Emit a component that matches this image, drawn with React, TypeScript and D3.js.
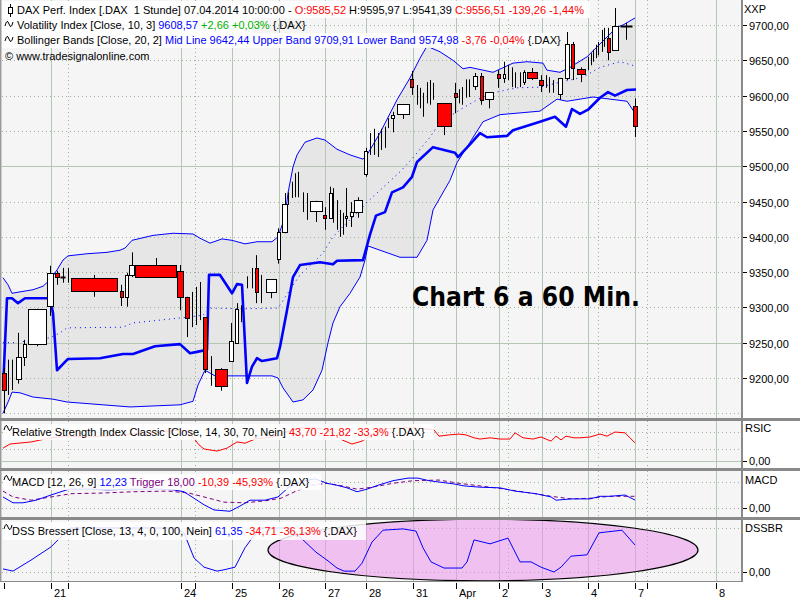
import React from "react";
import * as d3 from "d3";

// ---------- DATA ----------
// candles: [time slot, body width (slots, 0 = bar line only), open, high, low, close]
const candles: number[][] = [
  [0.3, 0.8, 9207, 9214, 9150, 9183],
  [1.2, 0, 9198, 9226, 9176, 9200],
  [2.0, 0, 9205, 9226, 9183, 9210],
  [3.26, 0.9, 9199, 9264, 9192, 9230],
  [4.46, 0.5, 9230, 9254, 9217, 9248],
  [6.9, 3.6, 9248, 9298, 9245, 9298],
  [9.6, 1.2, 9302, 9359, 9288, 9349],
  [11.0, 0.8, 9349, 9352, 9332, 9343],
  [12.2, 1.0, 9343, 9356, 9335, 9343],
  [13.2, 0, 9345, 9356, 9335, 9345],
  [18.4, 9.2, 9342, 9346, 9315, 9323],
  [23.8, 0.5, 9323, 9332, 9302, 9315],
  [24.9, 0.5, 9315, 9349, 9301, 9346],
  [25.9, 0.9, 9346, 9378, 9343, 9360],
  [30.7, 8.2, 9360, 9370, 9342, 9343],
  [35.6, 1.2, 9352, 9360, 9296, 9315],
  [37.0, 0.8, 9315, 9315, 9258, 9285],
  [38.0, 0, 9300, 9322, 9272, 9290],
  [38.8, 0, 9290, 9329, 9275, 9300],
  [39.6, 0, 9300, 9336, 9282, 9290],
  [40.6, 0.8, 9286, 9286, 9207, 9213],
  [41.7, 0, 9213, 9231, 9189, 9210],
  [43.8, 2.4, 9213, 9214, 9182, 9189],
  [45.8, 0.8, 9224, 9278, 9224, 9252],
  [46.9, 0.6, 9250, 9306, 9250, 9298],
  [47.8, 0, 9290, 9303, 9279, 9295],
  [49.0, 0, 9335, 9344, 9327, 9340],
  [50.0, 0, 9340, 9356, 9327, 9345],
  [50.8, 0.5, 9356, 9374, 9306, 9322],
  [51.8, 0, 9322, 9346, 9306, 9322],
  [53.7, 2.0, 9322, 9340, 9313, 9340],
  [55.2, 0.5, 9369, 9412, 9362, 9407],
  [56.5, 1.0, 9407, 9462, 9405, 9446],
  [57.2, 0, 9450, 9463, 9445, 9455],
  [58.0, 0, 9460, 9478, 9455, 9470],
  [58.6, 0, 9470, 9490, 9456, 9475],
  [59.2, 0, 9475, 9492, 9456, 9470],
  [60.2, 0, 9455, 9463, 9435, 9445],
  [61.0, 0, 9445, 9462, 9424, 9440],
  [62.7, 2.4, 9437, 9451, 9421, 9451],
  [64.5, 0.5, 9431, 9442, 9410, 9427],
  [65.6, 0.5, 9427, 9471, 9427, 9462],
  [66.2, 0, 9450, 9469, 9420, 9440],
  [67.0, 0, 9440, 9452, 9410, 9430],
  [67.6, 0, 9430, 9438, 9400, 9420],
  [68.2, 0, 9420, 9434, 9403, 9425],
  [68.8, 0.4, 9427, 9469, 9414, 9430],
  [69.8, 0.5, 9430, 9449, 9414, 9435],
  [71.2, 1.6, 9435, 9456, 9427, 9452],
  [72.7, 0.6, 9488, 9526, 9485, 9521],
  [73.6, 0, 9525, 9547, 9516, 9535],
  [74.4, 0, 9535, 9553, 9516, 9540],
  [75.2, 0, 9530, 9547, 9513, 9535],
  [75.7, 0, 9535, 9553, 9523, 9545],
  [76.6, 0, 9545, 9556, 9526, 9550],
  [77.2, 0, 9560, 9568, 9554, 9565],
  [78.1, 0.5, 9568, 9577, 9548, 9572],
  [80.2, 2.4, 9574, 9588, 9567, 9588],
  [81.9, 0.5, 9623, 9635, 9601, 9611],
  [83.0, 0, 9605, 9615, 9587, 9600],
  [83.6, 0, 9600, 9611, 9582, 9595],
  [84.2, 0, 9595, 9604, 9570, 9590],
  [85.0, 0, 9600, 9619, 9589, 9610],
  [85.6, 0, 9610, 9622, 9587, 9605],
  [86.2, 0, 9605, 9618, 9594, 9600],
  [88.4, 2.8, 9589, 9589, 9544, 9557],
  [90.6, 0.5, 9604, 9618, 9575, 9598],
  [91.4, 0, 9598, 9609, 9589, 9600],
  [92.0, 0, 9600, 9612, 9587, 9605],
  [92.8, 0, 9605, 9623, 9597, 9615],
  [93.4, 0, 9615, 9623, 9598, 9614],
  [94.6, 0.8, 9614, 9632, 9608, 9628],
  [95.8, 0.6, 9628, 9632, 9587, 9594],
  [97.4, 1.6, 9595, 9605, 9582, 9605],
  [99.3, 0.6, 9631, 9636, 9611, 9625],
  [100.4, 0.4, 9625, 9648, 9618, 9631],
  [101.2, 0, 9630, 9643, 9622, 9635],
  [102.0, 0, 9630, 9640, 9612, 9625],
  [102.6, 0, 9625, 9633, 9611, 9620],
  [103.6, 0, 9620, 9633, 9612, 9625],
  [104.4, 0.4, 9619, 9636, 9615, 9633],
  [106.0, 2.0, 9633, 9639, 9622, 9625],
  [107.8, 0.8, 9622, 9629, 9605, 9615],
  [108.8, 0, 9615, 9629, 9611, 9620],
  [109.4, 0, 9620, 9626, 9604, 9615],
  [110.2, 0, 9615, 9622, 9604, 9610],
  [111.5, 0.8, 9602, 9625, 9594, 9625],
  [112.9, 0.8, 9625, 9690, 9622, 9673],
  [114.1, 0.6, 9673, 9676, 9622, 9639],
  [115.7, 1.6, 9638, 9640, 9619, 9631],
  [117.2, 0, 9640, 9655, 9636, 9650],
  [117.8, 0, 9648, 9660, 9643, 9655],
  [118.2, 0, 9652, 9665, 9648, 9660],
  [118.8, 0, 9660, 9672, 9653, 9665],
  [119.2, 0, 9665, 9676, 9657, 9670],
  [120.0, 0, 9670, 9693, 9662, 9685],
  [120.4, 0, 9685, 9696, 9669, 9680],
  [121.2, 0.5, 9682, 9696, 9650, 9662],
  [122.6, 1.2, 9665, 9724, 9665, 9699],
  [124.8, 2.4, 9699, 9703, 9679, 9699],
  [126.6, 0.8, 9585.52, 9595.97, 9541.39, 9556.51],
];

const upperBand: number[][] = [
  [0.2, 9342], [1.2, 9332], [2.0, 9320], [3.6, 9322], [6.2, 9325], [8.2, 9330], [9.6, 9339],
  [11.0, 9353], [12.2, 9367], [13.2, 9373], [17.0, 9376], [21.0, 9378], [23.6, 9381], [24.6, 9384],
  [26.0, 9395], [30.2, 9402], [34.2, 9405], [38.2, 9404], [39.6, 9398], [41.6, 9391], [44.0, 9397],
  [46.0, 9395], [48.6, 9390], [51.0, 9393], [54.0, 9393], [55.2, 9400], [56.6, 9428], [57.2, 9462],
  [58.2, 9499], [59.0, 9516], [60.6, 9534], [63.0, 9540], [64.6, 9537], [67.0, 9524], [69.6, 9516],
  [72.2, 9510], [73.0, 9516], [75.6, 9547], [79.0, 9594], [81.6, 9625], [83.6, 9653], [85.0, 9670],
  [87.6, 9662], [90.2, 9650], [92.2, 9638], [93.6, 9640], [98.2, 9633], [102.2, 9646], [105.0, 9648],
  [108.2, 9646], [109.0, 9636], [111.6, 9633], [113.6, 9640], [117.0, 9655], [119.0, 9669],
  [121.0, 9683], [123.0, 9697], [124.2, 9700], [126.6, 9710],
];

const lowerBand: number[][] = [
  [0.2, 9150], [1.4, 9169], [2.0, 9180], [3.6, 9179], [6.2, 9173], [10.2, 9170], [13.0, 9166],
  [25.6, 9159], [35.6, 9162], [38.2, 9167], [39.2, 9190], [40.6, 9211], [42.6, 9203], [54.0, 9203],
  [55.2, 9200], [56.2, 9186], [57.6, 9172], [58.2, 9166], [60.2, 9169], [62.2, 9183], [64.0, 9211],
  [65.2, 9250], [66.2, 9278], [67.6, 9301], [69.6, 9320], [71.6, 9343], [72.6, 9367], [73.2, 9387],
  [75.6, 9381], [79.6, 9371], [83.0, 9371], [85.0, 9395], [86.2, 9438], [89.6, 9480], [91.0, 9505],
  [93.6, 9534], [96.2, 9563], [99.6, 9573], [107.6, 9578], [111.0, 9595], [113.0, 9592],
  [118.2, 9598], [125.0, 9592], [126.6, 9575],
];

const midLine: number[][] = [
  [0.2, 9250], [2.6, 9250], [9.6, 9257], [11.6, 9264], [13.0, 9271], [24.2, 9272], [26.2, 9278],
  [31.6, 9282], [35.6, 9285], [40.2, 9289], [41.6, 9299], [48.2, 9298], [55.0, 9299], [55.6, 9303],
  [57.6, 9325], [59.6, 9346], [62.2, 9363], [64.2, 9377], [66.2, 9400], [69.0, 9420], [71.6, 9438],
  [73.0, 9449], [75.6, 9466], [79.6, 9492], [82.2, 9512], [85.6, 9541], [87.0, 9556], [89.0, 9568],
  [91.6, 9580], [95.0, 9594], [98.2, 9604], [103.0, 9611], [107.6, 9612], [111.6, 9619],
  [116.2, 9626], [119.6, 9640], [123.6, 9648], [126.6, 9642],
];

const volIndex: number[][] = [
  [0.2, 9183], [1.0, 9313], [2.0, 9313], [3.2, 9306], [4.6, 9313], [9.6, 9313], [10.2, 9292],
  [11.0, 9211], [13.2, 9227], [19.6, 9228], [24.2, 9234], [26.2, 9234], [30.6, 9245], [35.6, 9248],
  [37.6, 9235], [39.0, 9237], [41.0, 9240], [41.4, 9346], [43.6, 9346], [46.0, 9320], [47.0, 9333],
  [48.0, 9332], [49.0, 9193], [50.0, 9216], [51.0, 9228], [52.0, 9224], [55.0, 9228], [55.6, 9244],
  [57.0, 9296], [58.2, 9343], [59.6, 9360], [63.6, 9364], [66.2, 9361], [67.0, 9366], [72.2, 9367],
  [73.6, 9403], [74.8, 9430], [76.6, 9435], [78.0, 9463], [80.2, 9470], [82.0, 9485], [83.0, 9506],
  [86.2, 9527], [90.6, 9519], [91.2, 9513], [93.6, 9531], [95.6, 9547], [97.0, 9541], [101.0, 9543],
  [102.2, 9551], [107.6, 9563], [110.6, 9570], [112.8, 9556], [114.0, 9581], [115.6, 9574],
  [117.2, 9580], [119.6, 9597], [121.2, 9605], [122.6, 9600], [125.0, 9608], [126.8, 9608.57],
];

const rsi: number[][] = [
  [0.2, 31], [1.6, 41], [5.8, 46], [9.8, 56], [12.8, 60], [17.0, 58], [21.0, 60], [25.6, 65],
  [31.6, 70], [35.6, 75], [37.4, 70], [39.4, 39], [40.4, 29], [43.0, 24], [45.0, 31], [47.0, 46],
  [48.6, 43], [50.6, 53], [52.6, 56], [55.2, 60], [56.8, 70], [59.6, 80], [62.6, 80], [65.0, 75],
  [68.0, 51], [70.0, 41], [72.0, 48], [74.0, 63], [75.6, 75], [78.6, 80], [82.6, 80], [86.4, 75],
  [87.4, 60], [89.4, 63], [91.4, 65], [92.8, 63], [94.4, 56], [95.6, 53], [97.6, 56], [99.6, 53],
  [101.6, 53], [102.6, 68], [104.2, 56], [106.2, 53], [107.8, 58], [109.8, 48], [110.8, 60],
  [111.8, 51], [112.8, 60], [114.4, 56], [115.6, 56], [117.6, 58], [119.6, 65], [121.0, 60],
  [122.6, 70], [124.6, 68], [126.6, 43.7],
];

const macd: number[][] = [
  [0.2, 17], [2.2, 8], [4.2, 8], [6.8, 12], [9.8, 20], [13.4, 29], [18.0, 29], [21.0, 28],
  [26.2, 29], [31.6, 29], [34.2, 28], [36.4, 25], [38.4, 15], [40.4, 5], [42.4, -3], [45.6, -5],
  [47.6, 3], [49.6, 12], [52.6, 12], [55.2, 17], [57.2, 31], [59.6, 40], [62.6, 45], [65.0, 38],
  [67.0, 35], [69.0, 31], [71.0, 25], [73.0, 29], [75.2, 35], [78.2, 42], [81.2, 46], [83.2, 46],
  [85.4, 42], [87.4, 40], [90.4, 37], [92.4, 34], [95.6, 32], [99.6, 31], [102.6, 26], [106.8, 22],
  [109.8, 17], [110.8, 12], [113.8, 14], [117.6, 14], [119.6, 18], [121.6, 18], [124.6, 20],
  [126.6, 12.23],
];

const trigger: number[][] = [
  [0.2, 26], [2.2, 17], [5.8, 12], [9.8, 17], [13.8, 22], [20.0, 23], [26.2, 25], [33.2, 26],
  [37.4, 23], [40.4, 17], [44.4, 9], [48.6, 8], [52.6, 11], [55.8, 15], [58.8, 26], [62.0, 35],
  [65.0, 38], [68.0, 34], [71.0, 29], [74.0, 32], [78.2, 38], [82.2, 42], [87.4, 43], [91.4, 38],
  [95.6, 34], [100.6, 29], [105.8, 23], [109.8, 18], [113.8, 14], [117.6, 15], [121.6, 18],
  [126.6, 18],
];

const dss: number[][] = [
  [0.2, 7], [2.2, 2], [5.8, 27], [9.8, 57], [11.8, 80], [13.6, 100], [34.6, 100], [36.4, 89],
  [38.4, 32], [40.4, 11], [43.0, 2], [44.4, 5], [46.6, 11], [48.6, 55], [50.2, 80], [52.0, 100],
  [57.6, 100], [60.2, 73], [62.8, 45], [65.0, 27], [67.0, 9], [68.4, 2], [70.6, 2], [72.0, 20],
  [74.0, 68], [76.2, 95], [80.2, 98], [82.8, 93], [84.2, 55], [85.8, 23], [88.4, 9], [92.0, 9],
  [93.0, 23], [94.4, 73], [97.6, 64], [101.2, 77], [103.6, 23], [105.8, 23], [107.8, 11],
  [110.4, 0], [111.8, 11], [113.8, 36], [117.0, 39], [119.4, 89], [124.0, 95], [126.6, 61.35],
];

const dayTicks = [9.8, 35.8, 46.0, 55.4, 64.6, 72.8, 82.2, 90.8, 99.4, 108.0, 117.2, 126.6, 142.8];
const dayLabels = ["21", "24", "25", "26", "27", "28", "31", "Apr", "2", "3", "4", "7", "8"];
const minorTicks = [0.4, 13.2, 38.6, 101.2, 119.2, 129.0];
const priceTicks = [9200, 9250, 9300, 9350, 9400, 9450, 9500, 9550, 9600, 9650, 9700];
const priceGrid = [9150, 9200, 9250, 9300, 9350, 9400, 9450, 9500, 9550, 9600, 9650, 9700];
// highlighted region in the DSS pane: [centre time, centre value, half-width (slots), half-height (value)]
const dssEllipse = [96.2, 50, 43, 70];

// ---------- LAYOUT ----------
const W = 800;
const H = 600;
const PL = 2;
const PR = 741;
const FONT = "'Liberation Sans', Arial, sans-serif";
const GRID_SOLID = "#b4c6b4";
const GRID_DOT = "#9fb09f";

const x = d3.scaleLinear().domain([0, 148]).range([2, 742]);
const yMain = d3.scaleLinear().domain([9200, 9700]).range([378, 25]);
const yRsi = d3.scaleLinear().domain([0, 100]).range([461, 419.6]);
const yMacd = d3.scaleLinear().domain([0, 40]).range([508, 482]);
const yDss = d3.scaleLinear().domain([0, 100]).range([572, 528]);

const de = d3.formatLocale({ decimal: ",", thousands: ".", grouping: [3], currency: ["", ""] });
const fmt = de.format(".2f");

function linePath(data: number[][], ys: d3.ScaleLinear<number, number>) {
  return d3
    .line<number[]>()
    .x((d) => x(d[0]))
    .y((d) => ys(d[1]))(data) as string;
}

const panels = [
  { top: 0, bottom: 418 },
  { top: 421, bottom: 468 },
  { top: 471, bottom: 517 },
  { top: 520, bottom: 581 },
];

function VGrid({ top, bottom }: { top: number; bottom: number }) {
  return (
    <g>
      {dayTicks.map((t, i) => (
        <line key={"d" + i} x1={Math.round(x(t)) + 0.5} x2={Math.round(x(t)) + 0.5} y1={top} y2={bottom} stroke={GRID_SOLID} strokeWidth={1} />
      ))}
      {minorTicks.slice(1).map((t, i) => (
        <line key={"m" + i} x1={Math.round(x(t)) + 0.5} x2={Math.round(x(t)) + 0.5} y1={top} y2={bottom} stroke={GRID_DOT} strokeWidth={1} strokeDasharray="1,3" />
      ))}
    </g>
  );
}

function HLine({ y, solid }: { y: number; solid?: boolean }) {
  const yy = Math.round(y) + 0.5;
  return (
    <line x1={PL} x2={PR} y1={yy} y2={yy} stroke={solid ? GRID_SOLID : GRID_DOT} strokeWidth={1} strokeDasharray={solid ? undefined : "1,3"} />
  );
}

function Wave({ x0, y0 }: { x0: number; y0: number }) {
  return <path d={`M${x0},${y0 + 2} q2,-8 4,-2 t4,-2`} fill="none" stroke="#000" strokeWidth={1} />;
}

export default function App() {
  const bandPoly =
    "M" +
    upperBand.map((d) => `${x(d[0])},${yMain(d[1])}`).join("L") +
    "L" +
    lowerBand
      .slice()
      .reverse()
      .map((d) => `${x(d[0])},${yMain(d[1])}`)
      .join("L") +
    "Z";

  const [ecx, ecy, erx, ery] = dssEllipse;

  return (
    <svg
      width={W}
      height={H}
      viewBox={`0 0 ${W} ${H}`}
      style={{ position: "absolute", left: 0, top: 0, background: "#fff" }}
      fontFamily={FONT}
    >
      <defs>
        {panels.map((p, i) => (
          <clipPath id={"clip" + i} key={i}>
            <rect x={PL} y={p.top} width={PR - PL} height={p.bottom - p.top} />
          </clipPath>
        ))}
      </defs>
      <rect x={0} y={0} width={W} height={H} fill="#fff" />
      {panels.map((p, i) => (
        <rect key={i} x={PL} y={p.top} width={PR - PL} height={p.bottom - p.top} fill="#f5f5f5" />
      ))}

      {/* ---------- MAIN PANE ---------- */}
      <g clipPath="url(#clip0)">
        <path d={bandPoly} fill="#e6e6e6" stroke="none" />
        <VGrid top={0} bottom={418} />
        {priceGrid.map((p) => (
          <HLine key={p} y={yMain(p)} solid={p % 250 === 0} />
        ))}
        <path d={linePath(upperBand, yMain)} fill="none" stroke="#0000ff" strokeWidth={1} />
        <path d={linePath(lowerBand, yMain)} fill="none" stroke="#0000ff" strokeWidth={1} />
        <path d={linePath(midLine, yMain)} fill="none" stroke="#0000ff" strokeWidth={1} strokeDasharray="1,4" />
        <path d={linePath(volIndex, yMain)} fill="none" stroke="#0000ff" strokeWidth={2.6} strokeLinejoin="round" />
        {candles.map((c, i) => {
          const [t, w, o, h, l, cl] = c;
          const cx = Math.round(x(t)) + 0.5;
          const bw = w * 5;
          const wick = <line x1={cx} x2={cx} y1={yMain(h)} y2={yMain(l)} stroke="#000" strokeWidth={1} />;
          if (w === 0) return <g key={i}>{wick}</g>;
          const yo = yMain(o);
          const yc = yMain(cl);
          const top = Math.round(Math.min(yo, yc)) + 0.5;
          const hh = Math.max(1, Math.round(Math.abs(yo - yc)));
          const left = Math.round(x(t) - bw / 2) + 0.5;
          const width = Math.max(1, Math.round(bw));
          if (o === cl) {
            return (
              <g key={i}>
                {wick}
                <rect x={left} y={top - 1} width={width} height={2} fill="#000" />
              </g>
            );
          }
          return (
            <g key={i}>
              {wick}
              <rect x={left} y={top} width={width} height={hh} fill={cl < o ? "#ff0000" : "#ffffff"} stroke="#000" strokeWidth={1} />
            </g>
          );
        })}
        <text
          x={412}
          y={306}
          fontFamily="'DejaVu Sans', Verdana, sans-serif"
          fontWeight="bold"
          fontSize={26}
          textLength={228}
          lengthAdjust="spacingAndGlyphs"
          fill="#000"
        >
          Chart 6 a 60 Min.
        </text>
      </g>

      {/* main legend */}
      <g fontSize={11} style={{ whiteSpace: "pre" }}>
        <rect x={PL} y={1} width={588} height={17} fill="#fff" opacity={0.9} />
        <rect x={PL} y={18} width={250} height={15} fill="#fff" opacity={0.9} />
        <rect x={PL} y={33} width={554} height={15} fill="#fff" opacity={0.9} />
        <line x1={10.5} x2={10.5} y1={4} y2={17} stroke="#000" />
        <rect x={8.5} y={7.5} width={4} height={6} fill="#fff" stroke="#000" />
        <text x={17} y={14} xmlSpace="preserve">
          <tspan fill="#000">{"DAX Perf. Index [.DAX  1 Stunde] 07.04.2014 10:00:00 - "}</tspan>
          <tspan fill="#ff0000">O:9585,52</tspan>
          <tspan fill="#000">{" H:9595,97 L:9541,39 "}</tspan>
          <tspan fill="#ff0000">C:9556,51 -139,26 -1,44%</tspan>
        </text>
        <Wave x0={5} y0={24} />
        <text x={17} y={29} xmlSpace="preserve">
          <tspan fill="#000">{"Volatility Index [Close, 10, 3] "}</tspan>
          <tspan fill="#0000ff">9608,57</tspan>
          <tspan fill="#00b000">{" +2,66 +0,03% "}</tspan>
          <tspan fill="#000">{"{.DAX}"}</tspan>
        </text>
        <Wave x0={5} y0={39} />
        <text x={17} y={44} xmlSpace="preserve">
          <tspan fill="#000">{"Bollinger Bands [Close, 20, 2] "}</tspan>
          <tspan fill="#0000ff">Mid Line 9642,44 Upper Band 9709,91 Lower Band 9574,98</tspan>
          <tspan fill="#ff0000">{" -3,76 -0,04% "}</tspan>
          <tspan fill="#000">{"{.DAX}"}</tspan>
        </text>
        <text x={5} y={60} fill="#000">
          © www.tradesignalonline.com
        </text>
      </g>

      {/* ---------- RSI PANE ---------- */}
      <g clipPath="url(#clip1)">
        <VGrid top={421} bottom={468} />
        <HLine y={yRsi(70)} />
        <HLine y={yRsi(30)} />
        <HLine y={yRsi(0)} solid />
        <path d={linePath(rsi, yRsi)} fill="none" stroke="#ff0000" strokeWidth={1} />
        <rect x={3} y={424} width={431} height={16} fill="#fff" opacity={0.85} />
        <Wave x0={4} y0={428} />
        <text x={12} y={436} fontSize={11} xmlSpace="preserve">
          <tspan fill="#000">{"Relative Strength Index Classic [Close, 14, 30, 70, Nein] "}</tspan>
          <tspan fill="#ff0000">{"43,70 -21,82 -33,3% "}</tspan>
          <tspan fill="#000">{"{.DAX}"}</tspan>
        </text>
      </g>

      {/* ---------- MACD PANE ---------- */}
      <g clipPath="url(#clip2)">
        <VGrid top={471} bottom={517} />
        <HLine y={yMacd(40)} />
        <HLine y={yMacd(0)} />
        <path d={linePath(trigger, yMacd)} fill="none" stroke="#800080" strokeWidth={1} strokeDasharray="4,3" />
        <path d={linePath(macd, yMacd)} fill="none" stroke="#0000ff" strokeWidth={1} />
        <rect x={3} y={474} width={318} height={16} fill="#fff" opacity={0.85} />
        <Wave x0={4} y0={478} />
        <text x={12} y={486} fontSize={11} xmlSpace="preserve">
          <tspan fill="#000">{"MACD [12, 26, 9] "}</tspan>
          <tspan fill="#0000ff">{"12,23 "}</tspan>
          <tspan fill="#800080">{"Trigger 18,00 "}</tspan>
          <tspan fill="#ff0000">{"-10,39 -45,93% "}</tspan>
          <tspan fill="#000">{"{.DAX}"}</tspan>
        </text>
      </g>

      {/* ---------- DSS PANE ---------- */}
      <g clipPath="url(#clip3)">
        <VGrid top={520} bottom={581} />
        <HLine y={yDss(100)} />
        <HLine y={yDss(0)} />
        <ellipse
          cx={x(ecx)}
          cy={yDss(ecy)}
          rx={x(ecx + erx) - x(ecx)}
          ry={yDss(ecy) - yDss(ecy + ery)}
          fill="rgb(235,150,235)"
          fillOpacity={0.55}
          stroke="#000"
          strokeWidth={1.2}
        />
        <path d={linePath(dss, yDss)} fill="none" stroke="#0000ff" strokeWidth={1} />
        <rect x={3} y={522} width={363} height={18} fill="#fff" opacity={0.85} />
        <Wave x0={4} y0={527} />
        <text x={12} y={535} fontSize={11} xmlSpace="preserve">
          <tspan fill="#000">{"DSS Bressert [Close, 13, 4, 0, 100, Nein] "}</tspan>
          <tspan fill="#0000ff">{"61,35 "}</tspan>
          <tspan fill="#ff0000">{"-34,71 -36,13% "}</tspan>
          <tspan fill="#000">{"{.DAX}"}</tspan>
        </text>
      </g>

      {/* ---------- FRAMES ---------- */}
      <rect x={0} y={0} width={1.5} height={582} fill="#9a9a9a" />
      <rect x={741} y={0} width={2} height={582} fill="#8a8a8a" />
      <rect x={0} y={418} width={W} height={3} fill="#8a8a8a" />
      <rect x={0} y={468} width={W} height={3} fill="#8a8a8a" />
      <rect x={0} y={517} width={W} height={3} fill="#8a8a8a" />
      <rect x={0} y={581} width={743} height={1} fill="#8a8a8a" />

      {/* ---------- RIGHT AXES ---------- */}
      <g fontSize={11} fill="#000">
        <text x={744} y={13}>XXP</text>
        {priceTicks.map((p) => {
          const yy = Math.round(yMain(p)) + 0.5;
          return (
            <g key={p}>
              <line x1={743} x2={747} y1={yy} y2={yy} stroke="#000" />
              <text x={749} y={yy + 4}>{fmt(p)}</text>
            </g>
          );
        })}
        <text x={745} y={432}>RSIC</text>
        <line x1={743} x2={747} y1={Math.round(yRsi(0)) + 0.5} y2={Math.round(yRsi(0)) + 0.5} stroke="#000" />
        <text x={749} y={yRsi(0) + 4}>{fmt(0)}</text>
        <text x={745} y={484}>MACD</text>
        <line x1={743} x2={747} y1={Math.round(yMacd(0)) + 0.5} y2={Math.round(yMacd(0)) + 0.5} stroke="#000" />
        <text x={749} y={yMacd(0) + 4}>{fmt(0)}</text>
        <text x={745} y={532}>DSSBR</text>
        <line x1={743} x2={747} y1={Math.round(yDss(0)) + 0.5} y2={Math.round(yDss(0)) + 0.5} stroke="#000" />
        <text x={749} y={yDss(0) + 4}>{fmt(0)}</text>
      </g>

      {/* ---------- BOTTOM AXIS ---------- */}
      <g fontSize={11} fill="#000">
        {[...dayTicks, ...minorTicks].map((t, i) => (
          <line key={i} x1={Math.round(x(t)) + 0.5} x2={Math.round(x(t)) + 0.5} y1={583} y2={589} stroke="#000" />
        ))}
        {dayTicks.map((t, i) => (
          <text key={i} x={x(t) + 3} y={597}>
            {dayLabels[i]}
          </text>
        ))}
      </g>
    </svg>
  );
}
